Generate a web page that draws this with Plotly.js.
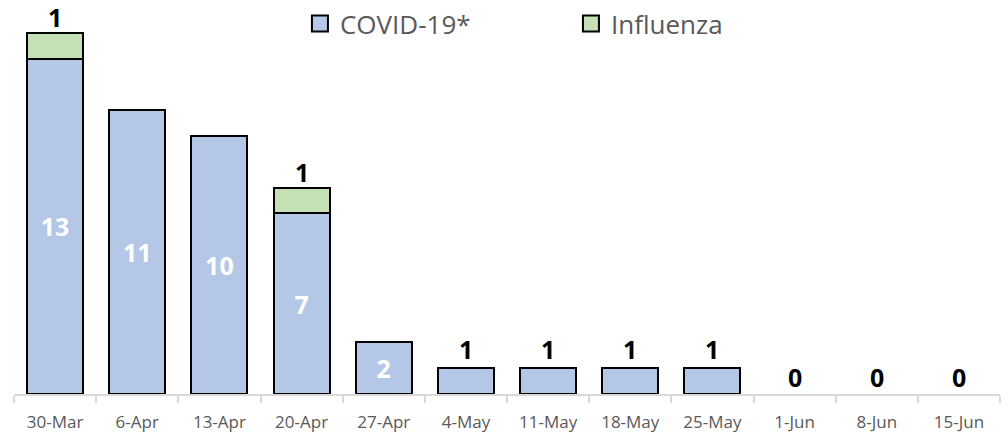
<!DOCTYPE html>
<html><head><meta charset="utf-8">
<script src="https://cdn.plot.ly/plotly-3.0.1.min.js"></script>
<style>html,body{margin:0;padding:0;background:#fff}#c{width:1008px;height:434px}</style>
</head><body><div id="c"></div>
<script>
const weeks = ["30-Mar","6-Apr","13-Apr","20-Apr","27-Apr","4-May","11-May","18-May","25-May","1-Jun","8-Jun","15-Jun"];
const covid = [13,11,10,7,2,1,1,1,1,0,0,0];
const influenza = [1,null,null,1,null,null,null,null,null,null,null,null];
const seriesNames = ["COVID-19*","Influenza"];
const seriesColors = ["#B4C7E7","#C5E0B4"];

const covidInsideText = covid.map(v => v >= 2 ? String(v) : "");
const covidLineW = covid.map(v => v > 0 ? 2 : 0);
const lblFont = {family:"Open Sans", size:25, weight:"bold"};

const traces = [
  {type:"bar", name:seriesNames[0], showlegend:false, x:weeks, y:covid, text:covidInsideText,
   textposition:"inside", insidetextanchor:"middle", textangle:0, constraintext:"none",
   insidetextfont:Object.assign({color:"#ffffff"}, lblFont),
   marker:{color:seriesColors[0], line:{color:"#000000", width:covidLineW}}, cliponaxis:false, hoverinfo:"none"},
  {type:"bar", name:seriesNames[1], showlegend:false, x:weeks, y:influenza,
   marker:{color:seriesColors[1], line:{color:"#000000", width:2}}, cliponaxis:false, hoverinfo:"none"},
  {type:"scatter", mode:"markers", name:seriesNames[0], x:[null], y:[null],
   marker:{symbol:"square", size:16, color:seriesColors[0], line:{color:"#000000", width:2}}, hoverinfo:"none"},
  {type:"scatter", mode:"markers", name:seriesNames[1], x:[null], y:[null],
   marker:{symbol:"square", size:16, color:seriesColors[1], line:{color:"#000000", width:2}}, hoverinfo:"none"}
];

// outside labels (small COVID values and Influenza) placed on the data scale
const annotations = [];
weeks.forEach((w, i) => {
  if (covid[i] < 2) {
    annotations.push({x:w, y:covid[i], xref:"x", yref:"y", text:String(covid[i]), showarrow:false,
      yanchor:"bottom", yshift:(covid[i] === 0 ? -2 : 0), font:Object.assign({color:"#000000"}, lblFont)});
  }
  if (influenza[i] != null) {
    annotations.push({x:w, y:covid[i] + influenza[i], xref:"x", yref:"y", text:String(influenza[i]), showarrow:false,
      yanchor:"bottom", yshift:-3, font:Object.assign({color:"#000000"}, lblFont)});
  }
});

const layout = {
  width:1008, height:434,
  margin:{l:14, r:8, t:0, b:40},
  barmode:"stack", bargap:0.32,
  paper_bgcolor:"#ffffff", plot_bgcolor:"#ffffff",
  showlegend:true,
  annotations:annotations,
  legend:{orientation:"h", x:0.29, xanchor:"left", y:1.0, yanchor:"top",
          font:{family:"Open Sans", size:26, color:"#595959"}, traceorder:"normal",
          itemwidth:30, entrywidth:226, entrywidthmode:"pixels", bgcolor:"rgba(0,0,0,0)"},
  xaxis:{type:"category", tickson:"boundaries", ticks:"outside", ticklen:7, tickwidth:2, tickcolor:"#D9D9D9",
         showline:true, linecolor:"#D9D9D9", linewidth:2, showgrid:false, zeroline:false,
         tickfont:{family:"Open Sans", size:17, color:"#595959"}, ticklabelstandoff:12},
  yaxis:{range:[0,15.27], visible:false, showgrid:false, zeroline:false, fixedrange:true}
};

Plotly.newPlot("c", traces, layout, {staticPlot:true});
</script></body></html>
